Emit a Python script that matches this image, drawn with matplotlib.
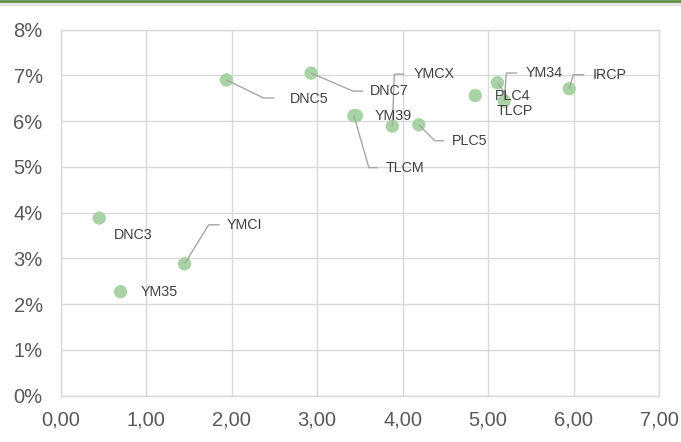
import matplotlib
matplotlib.use("Agg")
import matplotlib.pyplot as plt
from matplotlib.lines import Line2D
import numpy as np

plt.rcParams['font.family'] = ['Liberation Sans', 'DejaVu Sans']

# ---- data ----
names = ["DNC3", "YM35", "YMCI", "DNC5", "DNC7", "TLCM", "YM39", "YMCX",
         "PLC5", "PLC4", "TLCP", "YM34", "IRCP"]
x_vals = [0.45, 0.70, 1.45, 1.94, 2.93, 3.43, 3.46, 3.88,
          4.19, 4.85, 5.11, 5.19, 5.95]
y_vals = [3.88, 2.27, 2.88, 6.90, 7.05, 6.12, 6.12, 5.89,
          5.92, 6.56, 6.84, 6.44, 6.71]   # percent

x_ticks = [0, 1, 2, 3, 4, 5, 6, 7]
x_tick_labels = ["0,00", "1,00", "2,00", "3,00", "4,00", "5,00", "6,00", "7,00"]
y_ticks = [0, 1, 2, 3, 4, 5, 6, 7, 8]
y_tick_labels = ["0%", "1%", "2%", "3%", "4%", "5%", "6%", "7%", "8%"]

# ---- label layout (pixel offsets from point, image y downward) ----
label_off = {
    "DNC3": (15, 17), "YM35": (20, 0), "YMCI": (42, -39), "DNC5": (63, 19),
    "DNC7": (59, 18), "TLCM": (32, 52), "YM39": (18, 0), "YMCX": (21, -52),
    "PLC5": (33, 16), "PLC4": (20, 0), "TLCP": (-1, 28), "YM34": (21, -28),
    "IRCP": (23, -14),
}
leaders = {
    "YMCI": [(24, -39), (35, -39)],
    "DNC5": [(37, 18), (48, 18)],
    "DNC7": [(42, 18), (52, 18)],
    "TLCM": [(15, 52), (24, 52)],
    "YMCX": [(2, -52), (12, -52)],
    "PLC5": [(16, 16), (25, 16)],
    "TLCP": [(10, 14)],
    "YM34": [(2, -28), (13, -28)],
    "IRCP": [(4, -14), (15, -14)],
}

W, H = 681, 442
fig = plt.figure(figsize=(W / 100, H / 100), dpi=100)
ax = fig.add_axes([60.7 / W, (H - 395.5) / H, (659 - 60.7) / W, (395.5 - 29.7) / H])

ax.set_xlim(0, 7)
ax.set_ylim(0, 8)
ax.set_xticks(x_ticks)
ax.set_xticklabels(x_tick_labels)
ax.set_yticks(y_ticks)
ax.set_yticklabels(y_tick_labels)
ax.grid(True, color="#d9d9d9", linewidth=1.0)
ax.set_axisbelow(True)
for s in ax.spines.values():
    s.set_color("#d9d9d9")
    s.set_linewidth(1.0)
ax.tick_params(axis="both", length=0, labelsize=14.5, colors="#595959")
ax.tick_params(axis="y", pad=13)
ax.tick_params(axis="x", pad=11)

ax.scatter(x_vals, y_vals, s=92, color="#a8d3a4", edgecolors="none", zorder=3,
           clip_on=False)

fig.canvas.draw()
to_disp = ax.transData
inv = ax.transData.inverted()

def off_to_data(x, y, dx, dy):
    px, py = to_disp.transform((x, y))
    return inv.transform((px + dx, py - dy))

for n, x, y in zip(names, x_vals, y_vals):
    dx, dy = label_off[n]
    lx, ly = off_to_data(x, y, dx, dy)
    ax.text(lx, ly, n, fontsize=10.3, color="#404040", ha="left", va="center",
            zorder=5)
    if n in leaders:
        pts = [(x, y)] + [tuple(off_to_data(x, y, a, b)) for a, b in leaders[n]]
        xs, ys = zip(*pts)
        ax.plot(xs, ys, color="#a6a6a6", linewidth=1.0, zorder=4,
                solid_capstyle="butt")

# top decoration bands
fig.add_artist(Line2D([0, 1], [1 - 1.2 / H, 1 - 1.2 / H], transform=fig.transFigure,
                      color="#548235", linewidth=1.8))
fig.add_artist(Line2D([0, 1], [1 - 4 / H, 1 - 4 / H], transform=fig.transFigure,
                      color="#e3e3e3", linewidth=2.2))

fig.savefig("out.png", dpi=100)
